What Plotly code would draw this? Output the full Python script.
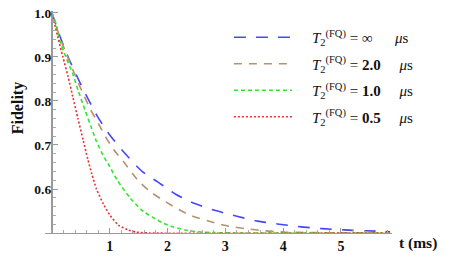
import plotly.graph_objects as go

# ---- data ----
t_inf = [0, 0.13, 0.28, 0.48, 0.62, 0.80, 1.01, 1.25, 1.56, 1.83, 2.14, 2.47, 2.83,
         3.20, 3.56, 3.93, 4.31, 4.67, 5.05, 5.43, 5.85]
f_inf = [1.0, 0.95, 0.90, 0.843, 0.806, 0.762, 0.721, 0.683, 0.640, 0.616, 0.588, 0.567, 0.551,
         0.538, 0.527, 0.520, 0.514, 0.510, 0.507, 0.505, 0.503]

t_20 = [0, 0.13, 0.28, 0.48, 0.67, 0.80, 0.93, 1.07, 1.24, 1.40, 1.52, 1.72, 1.94,
        2.36, 2.82, 3.08, 3.34, 3.59, 4.03, 4.5, 5.0, 5.85]
f_20 = [1.0, 0.948, 0.897, 0.834, 0.780, 0.750, 0.718, 0.689, 0.662, 0.634, 0.615, 0.592, 0.573,
        0.542, 0.523, 0.515, 0.510, 0.506, 0.502, 0.501, 0.5005, 0.500]

t_10 = [0, 0.05, 0.13, 0.24, 0.36, 0.45, 0.57, 0.69, 0.77, 0.91, 0.97, 1.13, 1.35,
        1.57, 1.90, 2.09, 2.30, 2.50, 2.8, 3.2, 5.85]
f_10 = [1.0, 0.985, 0.94, 0.90, 0.862, 0.825, 0.78, 0.737, 0.708, 0.670, 0.658, 0.620, 0.580,
        0.550, 0.524, 0.514, 0.507, 0.503, 0.501, 0.500, 0.500]

t_05 = [0, 0.10, 0.19, 0.28, 0.36, 0.45, 0.54, 0.62, 0.69, 0.77, 0.89, 1.00, 1.15,
        1.32, 1.46, 1.7, 5.85]
f_05 = [1.0, 0.946, 0.90, 0.855, 0.81, 0.760, 0.711, 0.668, 0.634, 0.600, 0.566, 0.541, 0.518,
        0.507, 0.502, 0.500, 0.500]

NB = "\u00a0"
labels = [
    NB * 4 + "<i>T</i><sub>2</sub><sup>(FQ)</sup> = ∞" + NB * 6 + "<i>μ</i>s",
    NB * 4 + "<i>T</i><sub>2</sub><sup>(FQ)</sup> = <b>2.0</b>" + NB * 5 + "<i>μ</i>s",
    NB * 4 + "<i>T</i><sub>2</sub><sup>(FQ)</sup> = <b>1.0</b>" + NB * 5 + "<i>μ</i>s",
    NB * 4 + "<i>T</i><sub>2</sub><sup>(FQ)</sup> = <b>0.5</b>" + NB * 5 + "<i>μ</i>s",
]
x_ticks = [1, 2, 3, 4, 5]
y_ticks = [0.6, 0.7, 0.8, 0.9, 1.0]

series = [
    (t_inf, f_inf, "#4646ff", "12px,10px", 1.6),
    (t_20, f_20, "#b8926c", "8px,7px", 1.6),
    (t_10, f_10, "#2ee82e", "4px,3px", 1.6),
    (t_05, f_05, "#ee3030", "2px,2px", 1.6),
]

fig = go.Figure()
for i, (tt, ff, col, dash, w) in enumerate(series):
    fig.add_trace(go.Scatter(
        x=tt, y=ff, mode="lines", name=labels[i], legendgroup=str(i),
        line=dict(color=col, dash=dash, width=w, shape="spline", smoothing=0.6),
    ))

serif = "Liberation Serif"
# page body adds an 8px offset; margins compensate for it
fig.update_layout(
    width=450, height=262,
    margin=dict(l=37, r=66, t=3, b=37, autoexpand=False),
    paper_bgcolor="white", plot_bgcolor="white",
    showlegend=True,
    legend=dict(x=0.53, y=0.955, xanchor="left", yanchor="top",
                font=dict(family=serif, size=15, color="#111"),
                bgcolor="rgba(0,0,0,0)", tracegroupgap=4, itemwidth=58),
    xaxis=dict(range=[-0.12, 5.883], domain=[0, 1], automargin=False,
               showline=True, linecolor="#999", linewidth=1,
               showgrid=False, zeroline=True, zerolinecolor="#999", zerolinewidth=1,
               tickvals=x_ticks, ticks="inside", ticklen=5, tickcolor="#999",
               minor=dict(dtick=0.2, ticks="inside", ticklen=3, tickcolor="#aaa"),
               tickfont=dict(family=serif, size=14, color="#111", weight="bold")),
    yaxis=dict(range=[0.5, 1.0045], domain=[0, 1], anchor="free", position=0.02,
               automargin=False, ticklabeloverflow="allow",
               showline=True, linecolor="#999", linewidth=1,
               showgrid=False, zeroline=False,
               tickvals=y_ticks, tickformat=".1f", ticks="inside", ticklen=5, tickcolor="#999",
               minor=dict(dtick=0.02, ticks="inside", ticklen=3, tickcolor="#aaa"),
               tickfont=dict(family=serif, size=13.5, color="#111", weight="bold")),
    annotations=[
        dict(text="<b>Fidelity</b>", xref="paper", yref="paper", x=-0.079, y=0.56,
             xanchor="center", yanchor="middle",
             textangle=-90, showarrow=False, font=dict(family=serif, size=16, color="#111")),
        dict(text="<b>t (ms)</b>", xref="paper", yref="paper", x=1.075, y=-0.045,
             xanchor="center", yanchor="middle",
             showarrow=False, font=dict(family=serif, size=15.5, color="#111")),
    ],
)
try:
    fig.update_layout(yaxis_ticklabelstandoff=-2)
except Exception:
    pass

fig.write_html("out.html")
